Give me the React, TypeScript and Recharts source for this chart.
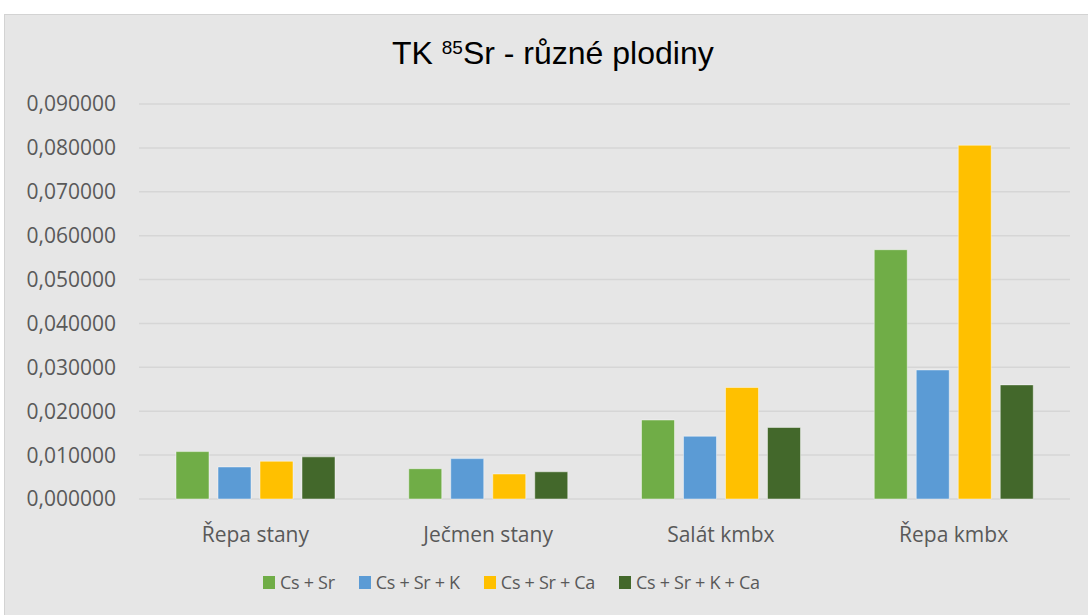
import { BarChart, Bar, XAxis, YAxis, CartesianGrid } from 'recharts';

const categories = ['Řepa stany', 'Ječmen stany', 'Salát kmbx', 'Řepa kmbx'];
const csSr = [0.0108, 0.0069, 0.0180, 0.0568];
const csSrK = [0.0073, 0.0092, 0.0143, 0.0294];
const csSrCa = [0.0086, 0.0057, 0.0254, 0.0806];
const csSrKCa = [0.0096, 0.0062, 0.0163, 0.0260];
const yTicks = [0, 0.01, 0.02, 0.03, 0.04, 0.05, 0.06, 0.07, 0.08, 0.09];

const seriesList = [
  { key: 'csSr', name: 'Cs + Sr', color: '#70AD47' },
  { key: 'csSrK', name: 'Cs + Sr + K', color: '#5B9BD5' },
  { key: 'csSrCa', name: 'Cs + Sr + Ca', color: '#FFC000' },
  { key: 'csSrKCa', name: 'Cs + Sr + K + Ca', color: '#43682B' },
];

const data = categories.map((c, i) => ({
  name: c,
  csSr: csSr[i],
  csSrK: csSrK[i],
  csSrCa: csSrCa[i],
  csSrKCa: csSrKCa[i],
}));

const tickFont = '"Open Sans", "Noto Sans", sans-serif';

export default function App() {
  return (
    <div style={{ position: 'absolute', left: 0, top: 0, width: 1088, height: 615, background: '#fff', overflow: 'hidden' }}>
      <div
        style={{
          position: 'absolute',
          left: 4,
          top: 14,
          width: 1090,
          height: 605,
          background: '#e6e6e6',
          border: '1px solid #d3d3d3',
        }}
      />
      {/* title */}
      <div
        style={{
          position: 'absolute',
          left: 392,
          top: 35,
          whiteSpace: 'nowrap',
          fontFamily: '"Liberation Sans", Arial, sans-serif',
          fontSize: 32,
          lineHeight: '36px',
          color: '#000',
        }}
      >
        TK <span style={{ fontSize: 19, position: 'relative', top: -10 }}>85</span>Sr - různé plodiny
      </div>
      <div style={{ position: 'absolute', left: 0, top: 0 }}>
        <BarChart
          width={1088}
          height={615}
          data={data}
          margin={{ top: 104, right: 18, bottom: 86, left: 0 }}
          barSize={33}
          barGap={9}
        >
          <CartesianGrid vertical={false} stroke="#d6d6d6" strokeWidth={1.5} />
          <XAxis
            dataKey="name"
            height={30}
            axisLine={false}
            tickLine={false}
            tickSize={0}
            tickMargin={28}
            tick={{ fill: '#595959', fontSize: 21, fontFamily: tickFont }}
          />
          <YAxis
            width={139}
            domain={[0, 0.09]}
            ticks={yTicks}
            axisLine={false}
            tickLine={false}
            tickSize={0}
            tickMargin={23}
            tickFormatter={(v: number) => v.toFixed(6).replace('.', ',')}
            tick={{ fill: '#595959', fontSize: 21, fontFamily: tickFont }}
          />
          {seriesList.map((s) => (
            <Bar
              key={s.key}
              dataKey={s.key}
              name={s.name}
              fill={s.color}
              stroke="rgba(255,255,255,0.45)"
              strokeWidth={1}
              isAnimationActive={false}
            />
          ))}
        </BarChart>
      </div>
      {/* legend */}
      <div
        style={{
          position: 'absolute',
          left: 263,
          top: 570,
          display: 'flex',
          whiteSpace: 'nowrap',
          fontFamily: tickFont,
          fontSize: 18,
          letterSpacing: -0.3,
          lineHeight: '24px',
          color: '#595959',
        }}
      >
        {seriesList.map((s) => (
          <div key={s.key} style={{ display: 'flex', alignItems: 'center', marginRight: 24 }}>
            <span style={{ width: 12, height: 13, background: s.color, display: 'inline-block', marginRight: 5 }} />
            <span>{s.name}</span>
          </div>
        ))}
      </div>
    </div>
  );
}
